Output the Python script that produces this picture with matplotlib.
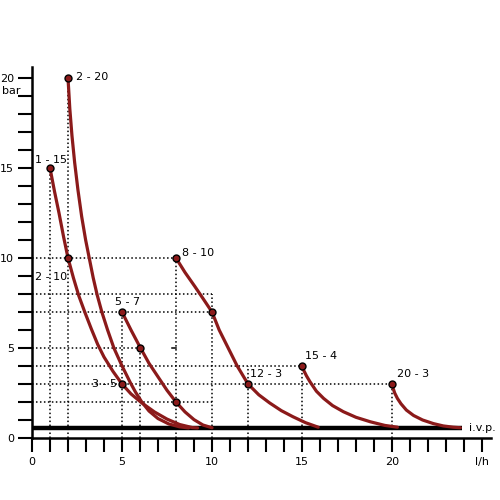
import numpy as np
import matplotlib
matplotlib.use('Agg')
import matplotlib.pyplot as plt
from matplotlib.ticker import MultipleLocator, FixedLocator

# pump curves, points (l/h, bar)
curve_1_15_x = [1, 1.25, 1.5, 1.75, 2, 2.3, 2.6, 2.95, 3.3, 3.65, 4.0, 4.5, 5, 5.5, 6.1, 6.8, 7.5, 8.2, 8.9, 9.2]
curve_1_15_y = [15, 13.7, 12.5, 11.2, 10, 8.9, 7.9, 6.95, 6.05, 5.2, 4.5, 3.7, 3, 2.45, 1.95, 1.45, 1.05, 0.75, 0.58, 0.56]

curve_2_20_x = [2, 2.1, 2.22, 2.37, 2.55, 2.76, 2.98, 3.18, 3.4, 3.62, 3.88, 4.2, 4.55, 4.98,
                5.45, 5.75, 6.1, 6.5, 7.0, 7.6, 8.2, 8.7]
curve_2_20_y = [20, 18.3, 16.8, 15.3, 13.8, 12.3, 11.0, 10, 8.9, 7.95, 7.0, 6.0, 5.0, 4.05,
                3.1, 2.55, 2.0, 1.5, 1.08, 0.78, 0.62, 0.56]

curve_5_7_x = [5, 5.5, 6, 6.5, 7, 7.5, 8, 8.5, 9, 9.5, 10.0]
curve_5_7_y = [7, 6.0, 5.05, 4.15, 3.4, 2.65, 2, 1.45, 1.02, 0.72, 0.57]

curve_8_10_x = [8, 8.5, 9.06, 9.5, 10, 10.4, 10.8, 11.4, 12, 12.6, 13.2, 13.85, 14.5, 15.2, 15.9]
curve_8_10_y = [10, 9.2, 8.4, 7.75, 7, 6.0, 5.2, 4.0, 3, 2.4, 1.95, 1.52, 1.18, 0.85, 0.6]

curve_15_4_x = [15, 15.1, 15.25, 15.44, 15.8, 16.2, 16.7, 17.3, 18, 18.8, 19.6, 20.3]
curve_15_4_y = [4, 3.75, 3.45, 3.13, 2.6, 2.2, 1.8, 1.46, 1.15, 0.9, 0.7, 0.6]

curve_20_3_x = [20, 20.05, 20.15, 20.3, 20.5, 20.8, 21.2, 21.7, 22.3, 22.85, 23.4, 23.8]
curve_20_3_y = [3, 2.8, 2.5, 2.2, 1.9, 1.55, 1.25, 1.0, 0.8, 0.67, 0.6, 0.57]

curves = [(curve_1_15_x, curve_1_15_y), (curve_2_20_x, curve_2_20_y),
          (curve_5_7_x, curve_5_7_y), (curve_8_10_x, curve_8_10_y),
          (curve_15_4_x, curve_15_4_y), (curve_20_3_x, curve_20_3_y)]

# marked points
pts_x = [1, 2, 2, 5, 6, 8, 10, 5, 8, 12, 15, 20]
pts_y = [15, 20, 10, 7, 5, 10, 7, 3, 2, 3, 4, 3]

# labels
lab_text = ['2 - 20', '1 - 15', '2 - 10', '8 - 10', '5 - 7', '3 - 5', '12 - 3', '15 - 4', '20 - 3']
lab_x = [2.44, 0.17, 0.17, 8.32, 4.61, 3.31, 12.1, 15.17, 20.3]
lab_y = [20.05, 15.45, 8.94, 10.3, 7.57, 3.0, 3.55, 4.55, 3.55]

# dotted guides: horizontal (y, x end), vertical (x, y top)
hguide_y = [10, 8, 7, 5, 4, 3, 2]
hguide_x = [8, 10, 10, 6, 15, 20, 10]
vguide_x = [1, 2, 5, 6, 8, 10, 12, 15, 20]
vguide_y = [15, 20, 7, 5, 10, 8, 4, 4, 3]

ivp = 0.55
ivp_end = 23.9

red = '#8b1a1a'

fig = plt.figure(figsize=(5, 5), dpi=100)
ax = fig.add_axes([0.064, 0.124, 0.918, 0.7416])
ax.set_xlim(0, 25.5)
ax.set_ylim(0, 20.6)

dots = dict(color='black', lw=1.1, linestyle=(0, (1, 1.6)))
for y, xe in zip(hguide_y, hguide_x):
    ax.plot([0, xe], [y, y], **dots)
ax.plot([7.8, 8.0], [5, 5], color='black', lw=1.1)
for x, yt in zip(vguide_x, vguide_y):
    ax.plot([x, x], [0, yt], **dots)

ax.plot([0, ivp_end], [ivp, ivp], color='black', lw=3.2, solid_capstyle='butt')
ax.text(24.25, ivp, 'i.v.p.', fontsize=8, va='center', ha='left')

for cx, cy in curves:
    ax.plot(cx, cy, color=red, lw=2.3, solid_capstyle='round', solid_joinstyle='round')

ax.plot(pts_x, pts_y, 'o', ms=5, mfc=red, mec='black', mew=1, clip_on=False)

for t, x, y in zip(lab_text, lab_x, lab_y):
    ax.text(x, y, t, fontsize=8, va='center', ha='left')

ax.spines['top'].set_visible(False)
ax.spines['right'].set_visible(False)
ax.spines['left'].set_linewidth(1.8)
ax.spines['bottom'].set_linewidth(1.8)

ax.xaxis.set_major_locator(FixedLocator([0, 5, 10, 15, 20, 25]))
ax.set_xticklabels(['0', '5', '10', '15', '20', 'l/h'])
ax.xaxis.set_minor_locator(MultipleLocator(1))
ax.yaxis.set_major_locator(FixedLocator([0, 5, 10, 15, 20]))
ax.yaxis.set_minor_locator(MultipleLocator(1))
ax.tick_params(which='both', direction='out', length=10, width=1.5, labelsize=8)
ax.tick_params(axis='x', which='major', pad=4)
ax.tick_params(axis='y', which='major', pad=3)

ax.text(-1.17, 19.3, 'bar', fontsize=8, ha='center', va='center')

fig.savefig('out.png', dpi=100)
